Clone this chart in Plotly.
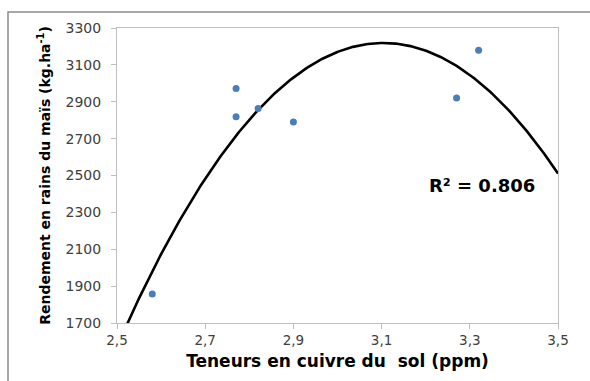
import numpy as np
import plotly.graph_objects as go

# Data
cuivre_ppm = [2.58, 2.77, 2.77, 2.82, 2.90, 3.27, 3.32]
rendement = [1857, 2972, 2818, 2864, 2790, 2920, 3180]
x_ticks = [2.5, 2.7, 2.9, 3.1, 3.3, 3.5]
y_ticks = [1700, 1900, 2100, 2300, 2500, 2700, 2900, 3100, 3300]
r2_label = "R² = 0.806"

# Polynomial (order 2) trendline fitted on the data
coef = np.polyfit(cuivre_ppm, rendement, 2)
xs = np.linspace(2.5, 3.5, 300)
ys = np.polyval(coef, xs)

fig = go.Figure()
fig.add_trace(go.Scatter(x=xs, y=ys, mode="lines",
                         line=dict(color="black", width=2.6),
                         hoverinfo="skip", showlegend=False))
fig.add_trace(go.Scatter(x=cuivre_ppm, y=rendement, mode="markers",
                         marker=dict(color="#4A7EBB", size=7),
                         showlegend=False))

L, R, T, B = 117, 32, 28, 58
W, H = 590, 381
pw, ph = W - L - R, H - T - B

fig.update_layout(
    width=W, height=H,
    margin=dict(l=L, r=R, t=T, b=B),
    paper_bgcolor="white", plot_bgcolor="white",
    separators=", ",
    font=dict(family="DejaVu Sans", color="#404040"),
    xaxis=dict(range=[2.5, 3.5], tickvals=x_ticks,
               ticktext=[f"{v:.1f}".replace(".", ",") for v in x_ticks],
               showgrid=False, zeroline=False,
               showline=True, linecolor="#BFBFBF", linewidth=1, mirror=True,
               ticks="outside", ticklen=5, tickcolor="#BFBFBF",
               tickfont=dict(size=13.5, color="#404040"),
               title=dict(text="Teneurs en cuivre du\u00a0 sol (ppm)",
                          font=dict(family="DejaVu Sans", size=17, color="black", weight="bold"),
                          standoff=7)),
    yaxis=dict(range=[1700, 3300], tickvals=y_ticks,
               showgrid=False, zeroline=False,
               showline=True, linecolor="#BFBFBF", linewidth=1, mirror=True,
               ticks="outside", ticklen=5, tickcolor="#BFBFBF",
               ticklabelstandoff=7,
               tickfont=dict(size=14, color="#404040"),
               title=dict(text="Rendement en rains du maïs (kg.ha<sup>-1</sup>)",
                          font=dict(family="DejaVu Sans", size=14, color="black", weight="bold"),
                          standoff=11)),
    annotations=[dict(x=482, y=185, xref="paper", yref="paper", text=r2_label,
                      showarrow=False,
                      font=dict(family="DejaVu Sans", size=18, color="black", weight="bold"))],
)
# position R² annotation by pixel -> paper conversion
fig.layout.annotations[0].x = (482 - L) / pw
fig.layout.annotations[0].y = (H - B - 185) / ph
fig.layout.annotations[0].xanchor = "center"
fig.layout.annotations[0].yanchor = "middle"

# outer chart frame (left and top edges visible)
fig.add_shape(type="rect", xref="paper", yref="paper",
              x0=(8 - L) / pw, x1=(W + 20 - L) / pw,
              y0=(H - B - (H + 20)) / ph, y1=(H - B - 12) / ph,
              line=dict(color="#8C8C8C", width=1.5), layer="below")

fig.write_html("out.html")
